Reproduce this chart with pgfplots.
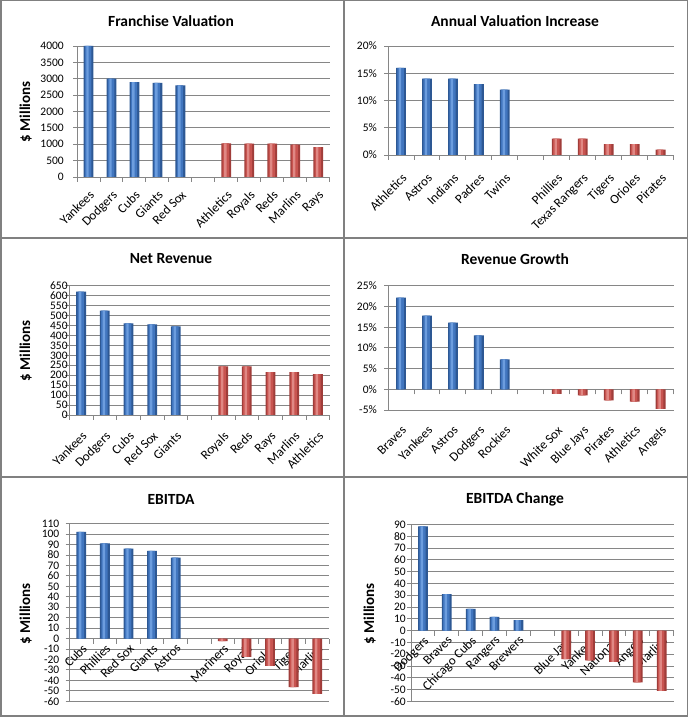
\documentclass[border=0pt]{standalone}
\usepackage{pgfplots}
\pgfplotsset{compat=1.18}
\usepackage{fontspec}
\setmainfont{Carlito}

\definecolor{bdark}{HTML}{2D5894}
\definecolor{bmid}{HTML}{4176BF}
\definecolor{blight}{HTML}{6C9DDE}
\definecolor{rdark}{HTML}{A03D3A}
\definecolor{rmid}{HTML}{C85450}
\definecolor{rlight}{HTML}{E08884}
\definecolor{gridgray}{HTML}{868686}
\definecolor{framegray}{HTML}{808080}

\newcommand{\tickfont}{\fontsize{11.5}{12}\selectfont}
\newcommand{\catfont}{\fontsize{13}{14}\selectfont}

% one cylinder-looking bar series: dark body, mid band, light highlight
\newcommand{\cyl}[4]{%
  \addplot[ybar, bar shift=0pt, bar width=9.8pt, fill=#1, draw=none] coordinates {#4};
  \addplot[ybar, bar shift=-0.4pt, bar width=6.4pt, fill=#2, draw=none] coordinates {#4};
  \addplot[ybar, bar shift=-1pt, bar width=2.4pt, fill=#3, draw=none] coordinates {#4};
}

\pgfplotsset{
  excel/.style={
    scale only axis, anchor=south west,
    xmin=-0.5, xmax=10.5,
    axis x line=middle, axis y line=left,
    axis line style={-, draw=gridgray, line width=0.9pt},
    hide obscured x ticks=false, hide obscured y ticks=false,
    xtick={0,...,10},
    minor xtick={-0.5,0.5,...,10.5},
    tick align=center,
    major tick length=4pt, minor tick length=5pt,
    major x tick style={draw=none},
    minor x tick style={draw=gridgray, line width=0.9pt, yshift=-2.5pt},
    ytick style={draw=gridgray, line width=0.9pt, xshift=-2pt},
    ymajorgrids,
    major grid style={draw=gridgray, line width=0.9pt},
    /pgf/number format/assume math mode=true,
    /pgf/number format/1000 sep={},
    scaled y ticks=false,
    yticklabel style={font=\tickfont, inner sep=0.5pt},
    xticklabel style={font=\catfont, anchor=north east, inner sep=1pt, rotate=45},
  },
  pct/.style={yticklabel={\pgfmathprintnumber{\tick}\%}},
}

\begin{document}
\begin{tikzpicture}[x=1pt,y=1pt]
\useasboundingbox (0,0) rectangle (688,717);
\fill[white] (0,0) rectangle (688,717);

% Franchise Valuation
\begin{axis}[excel, at={(77pt,540pt)}, width=252.7pt, height=131pt,
  ymin=0, ymax=4000, ytick={0,500,...,4000},
  yticklabel shift=10.5pt, xticklabel shift=9pt,
  xticklabels={Yankees,Dodgers,Cubs,Giants,Red Sox,{},Athletics,Royals,Reds,Marlins,Rays}]
\cyl{bdark}{bmid}{blight}{(0,4000)(1,3000)(2,2900)(3,2870)(4,2800)}
\cyl{rdark}{rmid}{rlight}{(6,1025)(7,1020)(8,1020)(9,990)(10,910)}
\end{axis}

% Annual Valuation Increase
\begin{axis}[excel, pct, at={(388pt,562pt)}, width=285.6pt, height=109pt,
  ymin=0, ymax=20, ytick={0,5,...,20},
  yticklabel shift=8.5pt, xticklabel shift=14pt,
  xticklabels={Athletics,Astros,Indians,Padres,Twins,{},Phillies,Texas Rangers,Tigers,Orioles,Pirates}]
\cyl{bdark}{bmid}{blight}{(0,16)(1,14)(2,14)(3,13)(4,12)}
\cyl{rdark}{rmid}{rlight}{(6,3)(7,3)(8,2)(9,2)(10,1)}
\end{axis}

% Net Revenue
\begin{axis}[excel, at={(69.3pt,302pt)}, width=260.4pt, height=129.3pt,
  ymin=0, ymax=650, ytick={0,50,...,650},
  yticklabel shift=-1pt, xticklabel shift=12pt,
  xticklabels={Yankees,Dodgers,Cubs,Red Sox,Giants,{},Royals,Reds,Rays,Marlins,Athletics}]
\cyl{bdark}{bmid}{blight}{(0,620)(1,525)(2,460)(3,455)(4,445)}
\cyl{rdark}{rmid}{rlight}{(6,245)(7,245)(8,215)(9,215)(10,205)}
\end{axis}

% Revenue Growth
\begin{axis}[excel, pct, at={(388pt,307pt)}, width=285.6pt, height=124.3pt,
  ymin=-5, ymax=25, ytick={-5,0,...,25},
  yticklabel shift=8.5pt, xticklabel shift=32pt,
  xticklabels={Braves,Yankees,Astros,Dodgers,Rockies,{},White Sox,Blue Jays,Pirates,Athletics,Angels}]
\cyl{bdark}{bmid}{blight}{(0,22.1)(1,17.8)(2,16.1)(3,13.0)(4,7.2)}
\cyl{rdark}{rmid}{rlight}{(6,-1.1)(7,-1.5)(8,-2.7)(9,-3.0)(10,-4.7)}
\end{axis}

% EBITDA
\begin{axis}[excel, at={(69.5pt,15.7pt)}, width=259.5pt, height=177.7pt,
  ymin=-60, ymax=110, ytick={-60,-50,...,110},
  yticklabel shift=7.5pt, xticklabel shift=1pt,
  xticklabels={Cubs,Phillies,Red Sox,Giants,Astros,{},Mariners,Royals,Orioles,Tigers,Marlins}]
\cyl{bdark}{bmid}{blight}{(0,102)(1,91)(2,86)(3,84)(4,77.5)}
\cyl{rdark}{rmid}{rlight}{(6,-2.5)(7,-17.5)(8,-26)(9,-46.5)(10,-53)}
\end{axis}

% EBITDA Change
\begin{axis}[excel, at={(411pt,15.7pt)}, width=262.6pt, height=176.7pt,
  ymin=-60, ymax=90, ytick={-60,-50,...,90},
  yticklabel shift=2.5pt, xticklabel shift=1pt,
  xticklabels={Dodgers,Braves,Chicago Cubs,Rangers,Brewers,{},Blue Jays,Yankees,Nationals,Angels,Marlins}]
\cyl{bdark}{bmid}{blight}{(0,88.5)(1,31)(2,18.4)(3,11.6)(4,9)}
\cyl{rdark}{rmid}{rlight}{(6,-24.3)(7,-25.2)(8,-26.6)(9,-43.9)(10,-51.2)}
\end{axis}

% titles
\begin{scope}[every node/.style={font=\fontsize{15.5}{17}\selectfont\bfseries}]
\node at (171,696) {Franchise Valuation};
\node at (515,696) {Annual Valuation Increase};
\node at (171,458) {Net Revenue};
\node at (515,458) {Revenue Growth};
\node at (171,218) {EBITDA};
\node at (515,218) {EBITDA Change};
\end{scope}

% y axis titles
\begin{scope}[every node/.style={font=\fontsize{15}{16}\selectfont\bfseries, rotate=90}]
\node at (25.6,605) {\$ Millions};
\node at (25.6,366) {\$ Millions};
\node at (25.6,103) {\$ Millions};
\node at (369.6,103) {\$ Millions};
\end{scope}

% panel frames
\draw[framegray, line width=1.5pt] (0.75,0.75) rectangle (687.25,716.25);
\draw[framegray, line width=1.5pt] (344,0) -- (344,717);
\draw[framegray, line width=1.5pt] (0,479) -- (688,479);
\draw[framegray, line width=1.5pt] (0,240) -- (688,240);
\end{tikzpicture}
\end{document}
